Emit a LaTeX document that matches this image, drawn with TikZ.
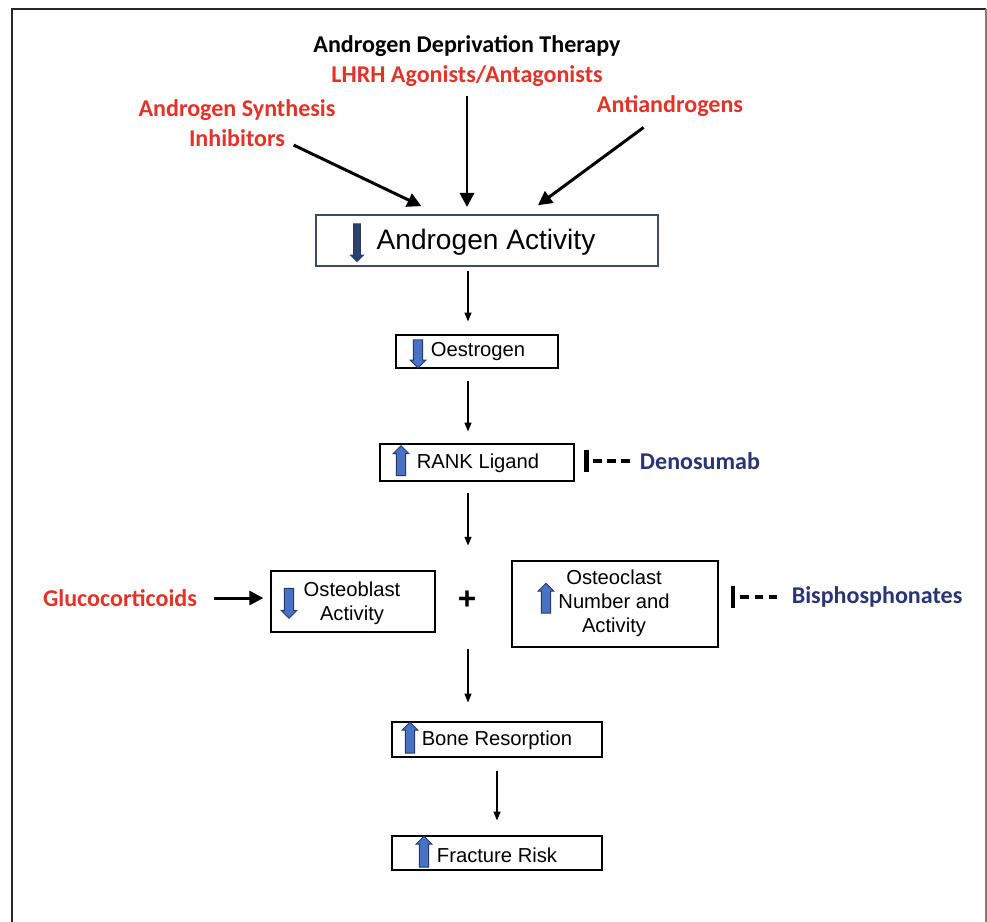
\documentclass[tikz,border=0pt]{standalone}
\usepackage{fontspec}
\setmainfont{Liberation Sans}
\newfontfamily\calfont{Carlito}
\usetikzlibrary{arrows.meta,shapes.arrows}

\definecolor{drugred}{RGB}{228,50,40}
\definecolor{drugblue}{RGB}{40,52,118}
\definecolor{iconfill}{RGB}{72,114,196}
\definecolor{iconedge}{RGB}{38,58,98}
\definecolor{framegray}{RGB}{60,76,104}

\tikzset{
  box/.style={draw, line width=0.7pt, inner sep=0pt},
  boxtext/.style={font=\fontsize{11.5}{13.6}\selectfont, align=center, inner sep=0pt},
  drug/.style={font=\calfont\bfseries\fontsize{13.7}{17}\selectfont, text=drugred, align=center, inner sep=0pt},
  blocker/.style={drug, text=drugblue},
  thinarrow/.style={-{Triangle[length=5pt,width=4pt]}, line width=0.6pt},
  thickarrow/.style={-{Triangle[length=8pt,width=8pt]}, line width=1.7pt},
  inhibit/.style={-{Rectangle[length=2.6pt,width=12pt]}, line width=1.8pt, dash pattern=on 5pt off 3pt},
  icon/.style={single arrow, draw=iconedge, fill=iconfill, line width=0.5pt,
    inner xsep=0pt, inner ysep=2.4pt, single arrow head extend=1.8pt, minimum height=17pt},
  upicon/.style={icon, rotate=90},
  downicon/.style={icon, rotate=-90}
}

\begin{document}
\begin{tikzpicture}[x=0.02cm,y=-0.02cm]
  \useasboundingbox (0,0) rectangle (987,921);
  % frame
  \draw[line width=1.6pt, black!85] (12,930) -- (12,9) -- (986,9);
  \draw[line width=0.7pt, gray] (986,9) -- (986,930);

  % therapies
  \node[drug, text=black] (adt) at (467,46) {Androgen Deprivation Therapy};
  \node[drug] (lhrh) at (467,76) {LHRH Agonists/Antagonists};
  \node[drug] (syn) at (237,123) {Androgen Synthesis\\Inhibitors};
  \node[drug] (anti) at (670,106) {Antiandrogens};

  % chain of boxes
  \node[box, draw=framegray, line width=1.1pt, minimum width=6.84cm, minimum height=1.02cm] (aa) at (487,240.5) {};
  \node[downicon, fill=iconedge!85!iconfill, inner ysep=1.7pt, minimum height=21.5pt] (aa-i) at (357,241) {};
  \node[boxtext, font=\fontsize{16}{19}\selectfont] (aa-t) at (486,242) {Androgen Activity};

  \node[box, minimum width=3.24cm, minimum height=0.66cm] (oe) at (477,351.5) {};
  \node[downicon, minimum height=16pt] (oe-i) at (418,351.5) {};
  \node[boxtext] (oe-t) at (478,352) {Oestrogen};

  \node[box, minimum width=3.88cm, minimum height=0.74cm] (rank) at (477,462.5) {};
  \node[upicon] (rank-i) at (401,463) {};
  \node[boxtext] (rank-t) at (478,463) {RANK Ligand};

  \node[box, minimum width=3.28cm, minimum height=1.22cm] (ob) at (353,601.5) {};
  \node[downicon] (ob-i) at (289,601) {};
  \node[boxtext] (ob-t) at (352,603) {Osteoblast\\Activity};

  \node[font=\bfseries\fontsize{18}{20}\selectfont, inner sep=0pt] (plus) at (467,600) {+};

  \node[box, minimum width=4.12cm, minimum height=1.72cm] (oc) at (615,604) {};
  \node[upicon] (oc-i) at (546,600.5) {};
  \node[boxtext] (oc-t) at (614,603) {Osteoclast\\Number and\\Activity};

  \node[box, minimum width=4.2cm, minimum height=0.7cm] (br) at (497,739.5) {};
  \node[upicon, minimum height=17.5pt] (br-i) at (410,740) {};
  \node[boxtext] (br-t) at (497,740) {Bone Resorption};

  \node[box, minimum width=4.2cm, minimum height=0.68cm] (fr) at (497,853) {};
  \node[upicon, minimum height=17.5pt] (fr-i) at (424,854) {};
  \node[boxtext] (fr-t) at (497,855) {Fracture Risk};

  % side agents
  \node[drug] (gluco) at (120,598) {Glucocorticoids};
  \node[blocker] (den) at (700,461) {Denosumab};
  \node[blocker] (bis) at (877,597) {Bisphosphonates};

  \coordinate (spine) at (468,0);

  % thick arrows into androgen activity
  \draw[thickarrow, shorten <=5pt, shorten >=4pt] (lhrh.south) -- (lhrh.south |- aa.north);
  \draw[thickarrow] ([xshift=-24pt,yshift=1pt]syn.south east) -- ([xshift=60.5pt,yshift=4.5pt]aa.north west);
  \draw[thickarrow] ([xshift=-15pt,yshift=-6pt]anti.south) -- ([xshift=29pt,yshift=5pt]aa.north);

  % thin arrows down the chain
  \draw[thinarrow, shorten <=2.3pt, shorten >=7.4pt] (aa.south -| spine) -- (oe.north -| spine);
  \draw[thinarrow, shorten <=6.8pt, shorten >=6.8pt] (oe.south -| spine) -- (rank.north -| spine);
  \draw[thinarrow, shorten <=6.2pt, shorten >=31pt] (rank.south -| spine) -- (plus.center -| spine);
  \draw[thinarrow, shorten <=28pt, shorten >=10.8pt] (plus.center -| spine) -- (br.north -| spine);
  \draw[thinarrow, shorten <=7.4pt, shorten >=8.5pt] (br.south -| fr-t) -- (fr.north -| fr-t);

  % glucocorticoids and blockers
  \draw[thickarrow, shorten <=9.6pt, shorten >=4pt] (gluco.east) -- (gluco.east -| ob.west);
  \draw[inhibit, shorten <=5.7pt, shorten >=5.5pt] (den.west) -- (den.west -| rank.east);
  \draw[inhibit, shorten <=8pt, shorten >=6.8pt] (bis.west) -- (bis.west -| oc.east);
\end{tikzpicture}
\end{document}
